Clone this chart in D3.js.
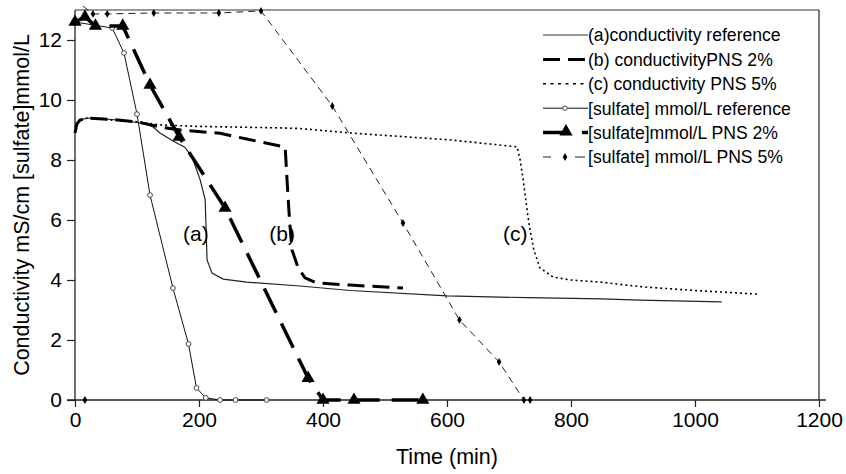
<!DOCTYPE html>
<html><head><meta charset="utf-8">
<script src="https://cdn.jsdelivr.net/npm/d3@7"></script>
<style>body{margin:0;background:#fff}svg{display:block}text{font-family:Arial,"Liberation Sans",sans-serif;fill:#000}</style>
</head><body><svg id="c" width="846" height="474"></svg>
<script>
// ---- data ----
const xTicks = [0, 200, 400, 600, 800, 1000, 1200];
const yTicks = [0, 2, 4, 6, 8, 10, 12];
const seriesNames = ["(a)conductivity reference", "(b) conductivityPNS 2%", "(c) conductivity PNS 5%",
  "[sulfate] mmol/L reference", "[sulfate]mmol/L PNS 2%", "[sulfate] mmol/L PNS 5%"];

const condA_t = [0,3,8,20,60,100,115,126,137,161,177,189,202,210,211,213,221,239,277,363,444,600,730,850,910,1043];
const condA_v = [8.9,9.2,9.33,9.4,9.35,9.25,9.2,9.1,8.9,8.6,8.43,8.1,7.33,6.67,6.0,4.67,4.23,4.03,3.93,3.8,3.65,3.47,3.41,3.37,3.33,3.27];

const condB_t = [0,3,8,20,60,100,137,170,234,277,339,342,346,350,355,360,371,390,444,529];
const condB_v = [8.9,9.2,9.33,9.4,9.35,9.27,9.1,9.0,8.89,8.7,8.43,7.33,6.0,5.0,4.7,4.4,4.07,3.9,3.83,3.73];

const condC_t = [0,3,8,20,60,105,137,200,331,363,444,605,713,718,723,730,734,740,750,771,800,847,916,1000,1101];
const condC_v = [8.9,9.2,9.33,9.4,9.33,9.27,9.17,9.12,9.07,9.05,8.9,8.67,8.44,8.0,7.33,6.2,5.67,5.0,4.4,4.1,4.0,3.93,3.77,3.65,3.53];

const sulfRef_t = [0,60,79,100,121,158,183,196,211,234,259,309];
const sulfRef_v = [12.6,12.4,11.57,9.53,6.83,3.73,1.87,0.4,0.07,0,0,0];

const sulf2_t = [0,16,33,77,121,168,242,376,400,450,561];
const sulf2_v = [12.6,12.77,12.47,12.47,10.5,8.77,6.4,0.73,0,0,0];

const sulf5_t = [13,29,52,127,232,300,415,529,620,684,724,734];
const sulf5_v = [13.13,12.87,12.87,12.9,12.9,12.97,9.8,5.9,2.67,1.27,0,0];

const stray_t = [16];
const stray_v = [0];

const curveLabels = ["(a)", "(b)", "(c)"];
const curveLabel_t = [195, 334, 710];
const curveLabel_v = [5.3, 5.3, 5.3];

// ---- layout ----
const svg = d3.select("#c");
const L = 75, R = 819, T = 10, B = 400;
const x = d3.scaleLinear().domain([0, 1200]).range([L, R]);
const y = d3.scaleLinear().domain([0, 13]).range([B, T]);
const zip = (t, v) => t.map((d, i) => [d, v[i]]);
const line = d3.line().x(d => x(d[0])).y(d => y(d[1]));

// frame
svg.append("line").attr("x1", L).attr("x2", R).attr("y1", T).attr("y2", T).attr("stroke", "#333").attr("stroke-width", 1.2);
svg.append("line").attr("x1", R).attr("x2", R).attr("y1", T).attr("y2", B).attr("stroke", "#222").attr("stroke-width", 1.2);

// axes
const xAxis = svg.append("g").attr("transform", `translate(0,${B})`)
  .call(d3.axisBottom(x).tickValues(xTicks).tickFormat(d3.format("d")).tickSize(7).tickPadding(5).tickSizeOuter(0));
const yAxis = svg.append("g").attr("transform", `translate(${L},0)`)
  .call(d3.axisLeft(y).tickValues(yTicks).tickFormat(d3.format("d")).tickSize(8).tickPadding(5).tickSizeOuter(0));
[xAxis, yAxis].forEach(g => {
  g.selectAll("path").attr("stroke", "#222").attr("stroke-width", 1.3);
  g.selectAll("line").attr("stroke", "#222").attr("stroke-width", 1.2);
  g.selectAll("text").style("font-size", "21px").attr("fill", "#000");
});
xAxis.select("path").attr("d", `M${L - 8},0H${R + 7}`);
yAxis.select("path").attr("d", `M0,${B}V${T}`);

// axis titles
svg.append("text").attr("x", 447).attr("y", 464).attr("text-anchor", "middle").style("font-size", "21.5px").text("Time (min)");
svg.append("text").attr("transform", "translate(29,205) rotate(-90)").attr("text-anchor", "middle").style("font-size", "21.5px")
  .text("Conductivity mS/cm [sulfate]mmol/L");

// conductivity lines
svg.append("path").datum(zip(condA_t, condA_v)).attr("d", line).attr("fill", "none").attr("stroke", "#222").attr("stroke-width", 1.2);
svg.append("path").datum(zip(condB_t, condB_v)).attr("d", line).attr("fill", "none").attr("stroke", "#000").attr("stroke-width", 3).attr("stroke-dasharray", "17,8");
svg.append("path").datum(zip(condC_t, condC_v)).attr("d", line).attr("fill", "none").attr("stroke", "#000").attr("stroke-width", 1.6).attr("stroke-dasharray", "2,3");

// sulfate reference
svg.append("path").datum(zip(sulfRef_t, sulfRef_v)).attr("d", line).attr("fill", "none").attr("stroke", "#111").attr("stroke-width", 1);
svg.append("g").selectAll("circle").data(zip(sulfRef_t, sulfRef_v)).join("circle")
  .attr("cx", d => x(d[0])).attr("cy", d => y(d[1])).attr("r", 2.4).attr("fill", "#fff").attr("stroke", "#444").attr("stroke-width", 1);

// sulfate PNS 5%
svg.append("path").datum(zip(sulf5_t, sulf5_v)).attr("d", line).attr("fill", "none").attr("stroke", "#222").attr("stroke-width", 1).attr("stroke-dasharray", "7,5");
const diamond = d3.symbol().type(d3.symbolDiamond).size(18);
svg.append("g").selectAll("path").data(zip(sulf5_t, sulf5_v).filter(d => d[1] <= 13).concat(zip(stray_t, stray_v))).join("path")
  .attr("transform", d => `translate(${x(d[0])},${y(d[1])})`).attr("d", diamond).attr("fill", "#000");

// sulfate PNS 2%
svg.append("path").datum(zip(sulf2_t, sulf2_v)).attr("d", line).attr("fill", "none").attr("stroke", "#000").attr("stroke-width", 3.5).attr("stroke-dasharray", "27,12");
const tri = d3.symbol().type(d3.symbolTriangle).size(75);
svg.append("g").selectAll("path").data(zip(sulf2_t, sulf2_v)).join("path")
  .attr("transform", d => `translate(${x(d[0])},${y(d[1])})`).attr("d", tri).attr("fill", "#000");

// curve labels
svg.append("g").selectAll("text").data(curveLabels).join("text")
  .attr("x", (d, i) => x(curveLabel_t[i])).attr("y", (d, i) => y(curveLabel_v[i])).attr("text-anchor", "middle")
  .style("font-size", "21px").text(d => d);

// legend
const lg = svg.append("g");
const lx0 = 543, lx1 = 587, ly0 = 35, ldy = 24.4;
const lstyles = [
  {w: 1.4, c: "#777", dash: null},
  {w: 3, c: "#000", dash: "17,8"},
  {w: 1.6, c: "#000", dash: "3,4.5"},
  {w: 1, c: "#111", dash: null},
  {w: 3.5, c: "#000", dash: "26,13"},
  {w: 1, c: "#222", dash: "8,24,10,10"}
];
seriesNames.forEach((name, i) => {
  const yy = ly0 + i * ldy;
  const s = lstyles[i];
  lg.append("line").attr("x1", lx0).attr("x2", lx1 + 1).attr("y1", yy).attr("y2", yy)
    .attr("stroke", s.c).attr("stroke-width", s.w).attr("stroke-dasharray", s.dash);
  if (i === 3) lg.append("circle").attr("cx", 565).attr("cy", yy).attr("r", 2.2).attr("fill", "#fff").attr("stroke", "#444");
  if (i === 4) lg.append("path").attr("transform", `translate(566,${yy - 1})`).attr("d", tri).attr("fill", "#000");
  if (i === 5) lg.append("path").attr("transform", `translate(565,${yy})`).attr("d", diamond).attr("fill", "#000");
  lg.append("text").attr("x", lx1 + 1).attr("y", yy + 6.3).style("font-size", "17.6px").text(name);
});
</script></body></html>
